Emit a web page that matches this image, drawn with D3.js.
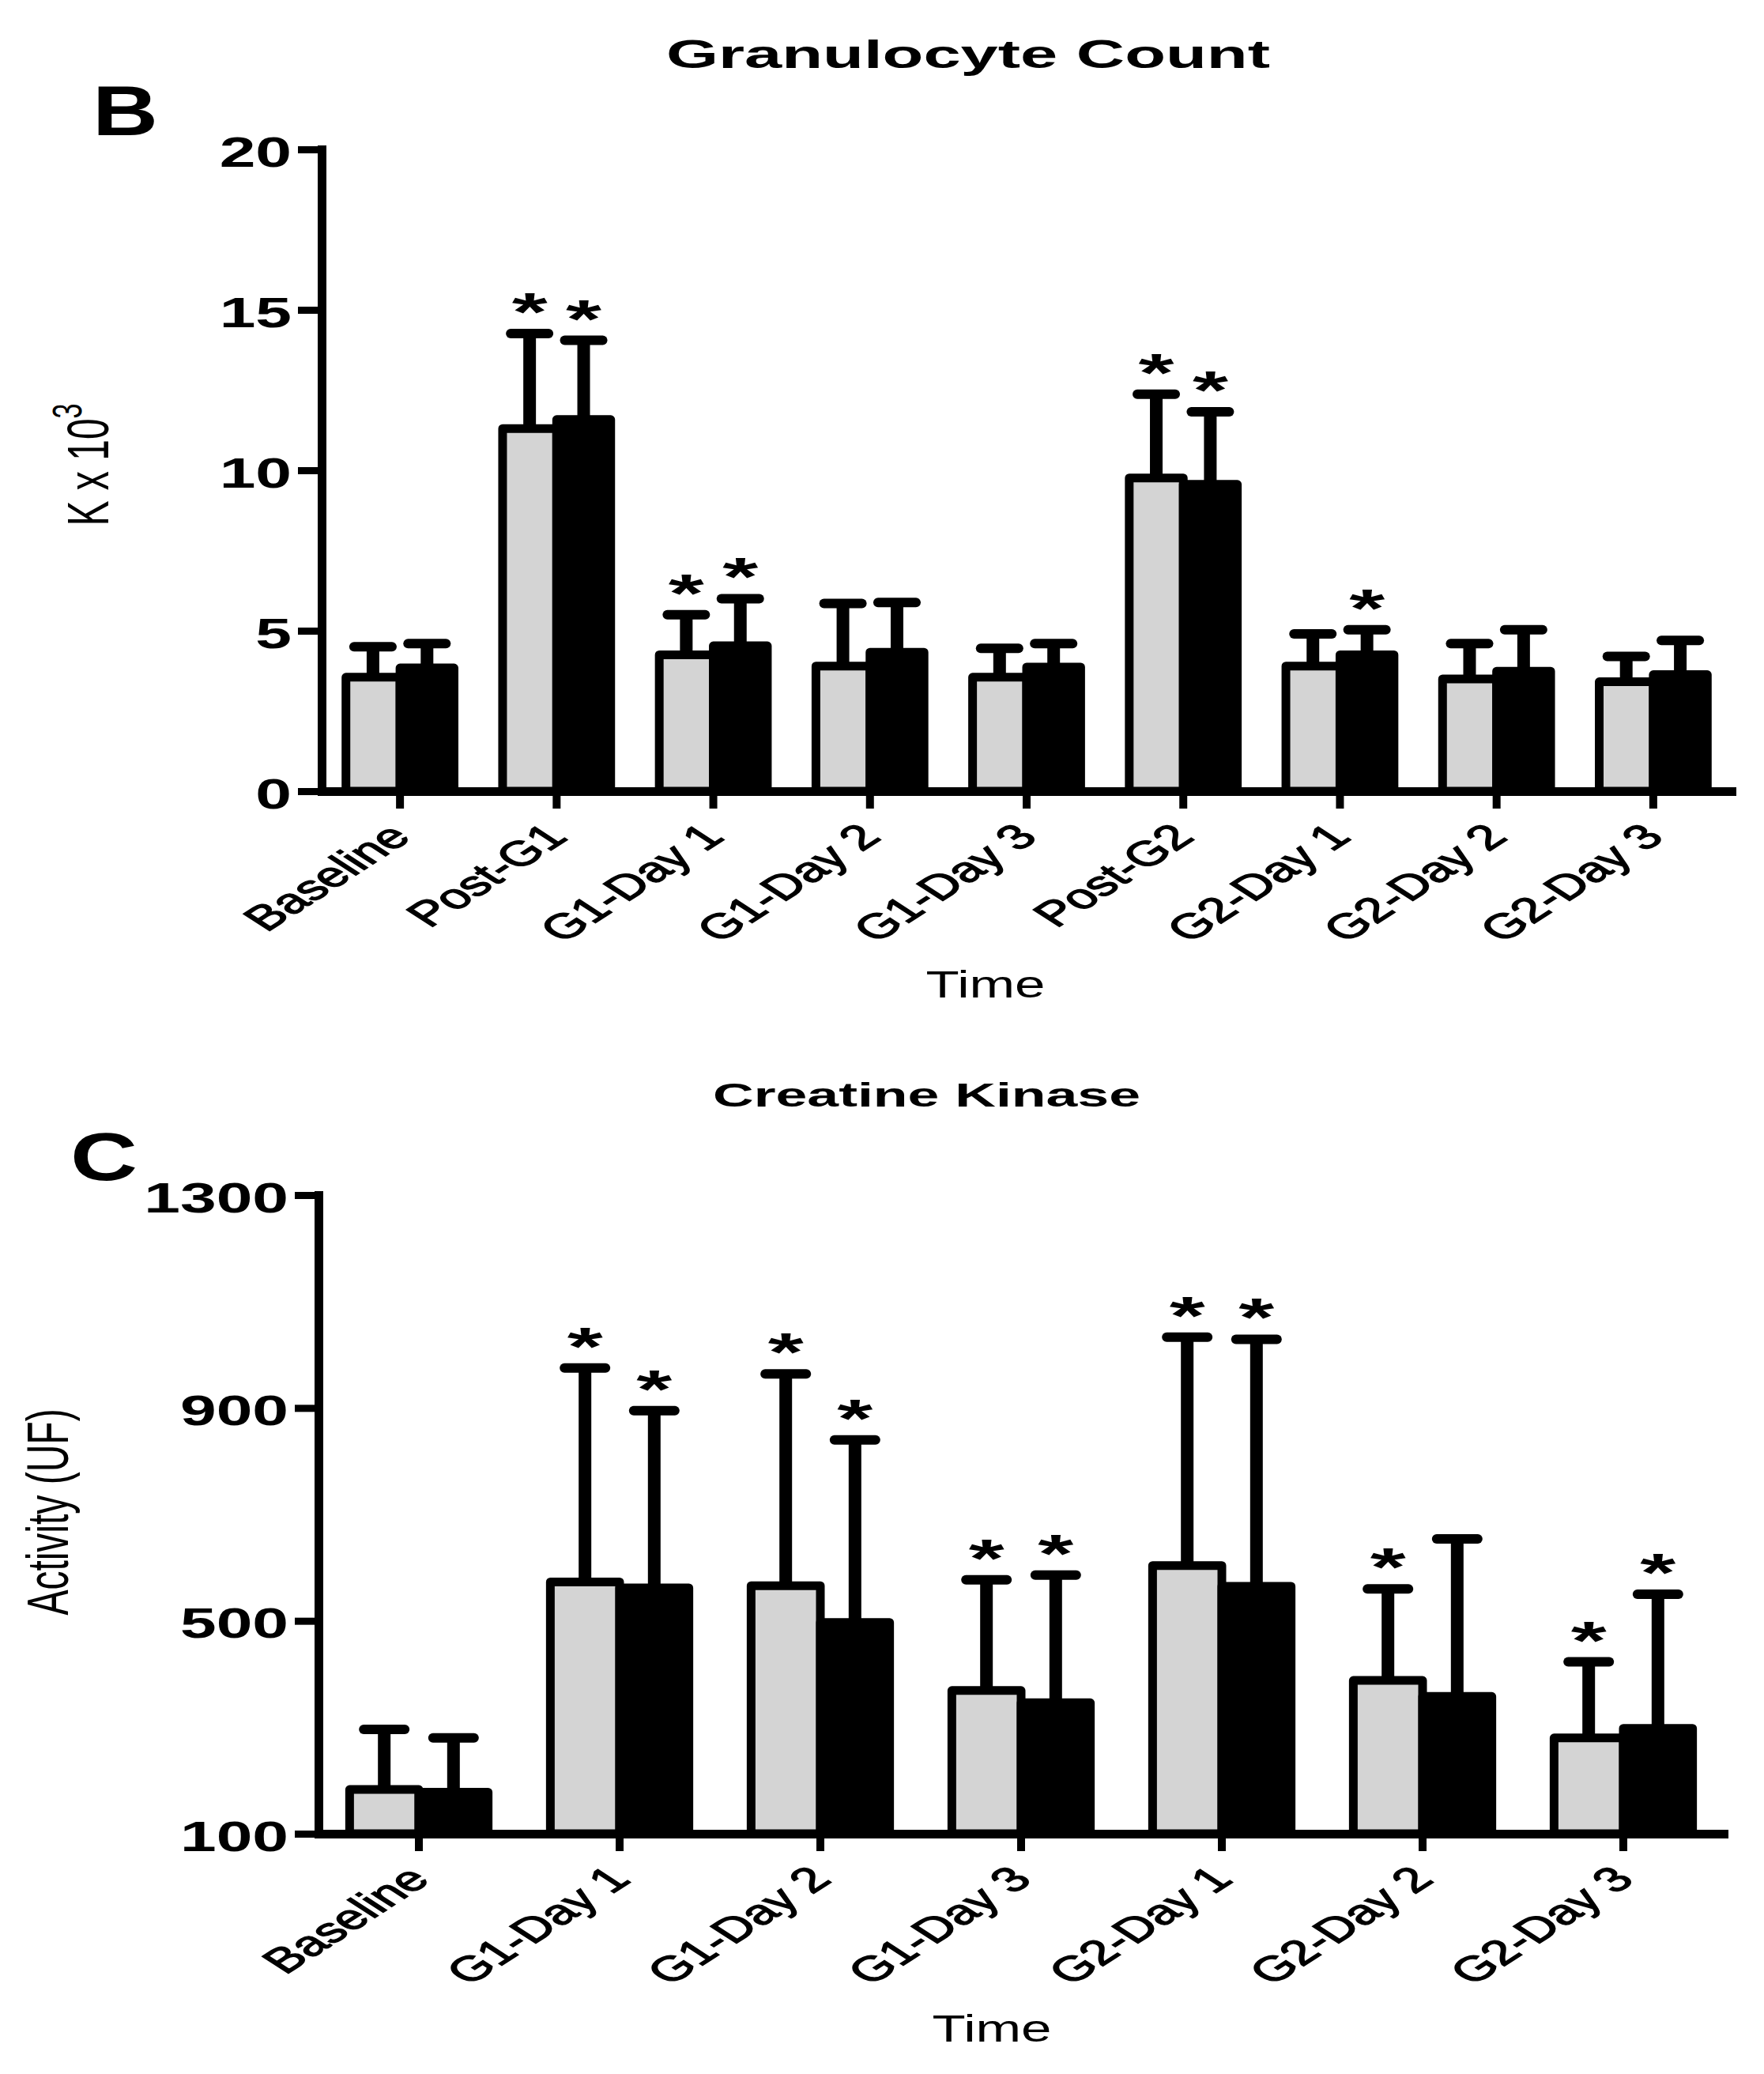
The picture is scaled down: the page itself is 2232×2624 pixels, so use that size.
<!DOCTYPE html>
<html>
<head>
<meta charset="utf-8">
<script src="https://cdn.jsdelivr.net/npm/d3@7"></script>
<style>
body { margin: 0; background: #fff; }
svg { display: block; }
text { font-family: "Liberation Sans", Arial, Helvetica, sans-serif; fill: #000; }
</style>
</head>
<body>
<div id="chart"></div>
<script>
// ---- data: Granulocyte Count (K x 10^3) ----
var granCategories = ["Baseline", "Post-G1", "G1-Day 1", "G1-Day 2", "G1-Day 3", "Post-G2", "G2-Day 1", "G2-Day 2", "G2-Day 3"];
var granGray      = [3.55, 11.3, 4.25, 3.9, 3.55, 9.76, 3.9, 3.5, 3.41];
var granGraySD    = [0.95, 2.96, 1.25, 1.95, 0.9, 2.61, 1.0, 1.1, 0.79];
var granBlack     = [3.84, 11.58, 4.53, 4.33, 3.87, 9.56, 4.25, 3.74, 3.63];
var granBlackSD   = [0.76, 2.47, 1.47, 1.55, 0.73, 2.26, 0.78, 1.29, 1.07];
var granGrayStar  = [0, 1, 1, 0, 0, 1, 0, 0, 0];
var granBlackStar = [0, 1, 1, 0, 0, 1, 1, 0, 0];
var granTicks     = [0, 5, 10, 15, 20];

// ---- data: Creatine Kinase, Activity (UF) ----
var ckCategories = ["Baseline", "G1-Day 1", "G1-Day 2", "G1-Day 3", "G2-Day 1", "G2-Day 2", "G2-Day 3"];
var ckGray      = [183, 573, 566, 369, 604, 388, 280];
var ckGraySD    = [113, 402, 398, 208, 429, 172, 143];
var ckBlack     = [178, 562, 497, 346, 565, 358, 298];
var ckBlackSD   = [102, 333, 343, 240, 464, 296, 252];
var ckGrayStar  = [0, 1, 1, 1, 1, 1, 1];
var ckBlackStar = [0, 1, 1, 1, 1, 0, 1];
var ckTicks     = [100, 500, 900, 1300];

var W = 2232, H = 2624;
var SX = 1.55;          // the figure is stretched horizontally
var LW = 11;            // line weight of bars / axes

var svg = d3.select("#chart").append("svg")
    .attr("width", W).attr("height", H);
svg.append("rect").attr("width", W).attr("height", H).attr("fill", "#fff");

function drawPanel(p) {
    var g = svg.append("g");
    var x0 = d3.scaleBand().domain(p.categories).range([p.left, p.right]);
    var y = d3.scaleLinear().domain(p.domain).range([p.bottom, p.top]);
    var pairW = x0.bandwidth() * 0.69;
    var barW = pairW / 2;

    var series = [
        {values: p.gray, sd: p.graySD, stars: p.grayStar, fill: "#d4d4d4"},
        {values: p.black, sd: p.blackSD, stars: p.blackStar, fill: "#000"}
    ];

    series.forEach(function(s, si) {
        var bx = function(c) { return x0(c) + (x0.bandwidth() - pairW) / 2 + si * barW; };
        var sg = g.append("g");
        // error bars (upper only)
        sg.selectAll("line.err").data(p.categories).enter().append("line")
            .attr("x1", function(c) { return bx(c) + barW / 2; })
            .attr("x2", function(c) { return bx(c) + barW / 2; })
            .attr("y1", function(c, i) { return y(s.values[i]); })
            .attr("y2", function(c, i) { return y(s.values[i] + s.sd[i]); })
            .attr("stroke", "#000").attr("stroke-width", 16);
        sg.selectAll("line.cap").data(p.categories).enter().append("line")
            .attr("x1", function(c) { return bx(c) + barW / 2 - p.capW / 2; })
            .attr("x2", function(c) { return bx(c) + barW / 2 + p.capW / 2; })
            .attr("y1", function(c, i) { return y(s.values[i] + s.sd[i]); })
            .attr("y2", function(c, i) { return y(s.values[i] + s.sd[i]); })
            .attr("stroke", "#000").attr("stroke-width", 12)
            .attr("stroke-linecap", "round");
        // bars
        sg.selectAll("rect").data(p.categories).enter().append("rect")
            .attr("x", bx)
            .attr("y", function(c, i) { return y(s.values[i]); })
            .attr("width", barW)
            .attr("height", function(c, i) { return p.bottom - y(s.values[i]); })
            .attr("fill", s.fill)
            .attr("stroke", "#000").attr("stroke-width", LW)
            .attr("stroke-linejoin", "round");
        // significance stars
        sg.selectAll("text").data(p.categories.filter(function(c, i) { return s.stars[i]; }))
            .enter().append("text")
            .attr("transform", function(c) {
                var i = p.categories.indexOf(c);
                return "translate(" + (bx(c) + barW / 2) + "," + (y(s.values[i] + s.sd[i]) - 4) + ") scale(1.7,1)";
            })
            .attr("text-anchor", "middle")
            .attr("font-weight", "bold")
            .attr("font-size", 68)
            .text("*");
    });

    // y axis
    var ya = g.append("g").attr("transform", "translate(" + p.left + ",0)")
        .call(d3.axisLeft(y).tickValues(p.ticks).tickSize(30).tickSizeOuter(0).tickPadding(8).tickFormat(d3.format("d")));
    ya.attr("font-size", null).attr("font-family", null);
    ya.select(".domain").attr("stroke-width", LW).attr("stroke-linecap", "square");
    ya.selectAll(".tick line").attr("stroke-width", 9);
    ya.selectAll(".tick text")
        .attr("font-size", 53).attr("font-weight", "bold")
        .attr("x", -38 / SX).attr("dy", "0.4em")
        .attr("transform", "scale(" + SX + ",1)");

    // x axis
    var xa = g.append("g").attr("transform", "translate(0," + p.bottom + ")")
        .call(d3.axisBottom(x0).tickSize(22).tickSizeOuter(0));
    xa.attr("font-size", null).attr("font-family", null);
    xa.select(".domain").attr("stroke-width", LW).attr("stroke-linecap", "square");
    xa.selectAll(".tick line").attr("stroke-width", 10);
    xa.selectAll(".tick text")
        .attr("font-size", 44)
        .attr("stroke", "#000").attr("stroke-width", 1.3)
        .attr("x", 0).attr("y", 0).attr("dy", 0)
        .attr("text-anchor", "end")
        .attr("transform", "translate(16,60) scale(" + SX + ",1) rotate(-45)");

    // titles and labels
    g.append("text").attr("x", p.titleX).attr("y", p.titleY)
        .attr("font-size", p.titleSize).attr("font-weight", "bold")
        .attr("textLength", p.titleLen).attr("lengthAdjust", "spacingAndGlyphs")
        .text(p.title);
    g.append("text").attr("x", p.letterX).attr("y", p.letterY)
        .attr("font-size", p.letterSize).attr("font-weight", "bold")
        .attr("textLength", p.letterLen).attr("lengthAdjust", "spacingAndGlyphs")
        .text(p.letter);
    g.append("text").attr("x", p.timeX).attr("y", p.timeY)
        .attr("font-size", 48).attr("text-anchor", "middle")
        .attr("textLength", 151).attr("lengthAdjust", "spacingAndGlyphs")
        .text("Time");
    var yl = g.append("text")
        .attr("transform", "translate(" + p.ylabX + "," + p.ylabY + ") scale(" + SX + ",1) rotate(-90)")
        .attr("text-anchor", "middle")
        .attr("font-size", p.ylabSize);
    p.ylab(yl);
}

drawPanel({
    categories: granCategories, gray: granGray, graySD: granGraySD, black: granBlack, blackSD: granBlackSD,
    grayStar: granGrayStar, blackStar: granBlackStar, ticks: granTicks, domain: [0, 20],
    left: 407, right: 2191, top: 189, bottom: 1001, capW: 48,
    title: "Granulocyte Count", titleX: 843, titleY: 86, titleSize: 50, titleLen: 764,
    letter: "B", letterX: 117, letterY: 171, letterSize: 89, letterLen: 83,
    timeX: 1247, timeY: 1262,
    ylabX: 137, ylabY: 588, ylabSize: 48,
    ylab: function(t) {
        t.append("tspan").text("K x 10");
        t.append("tspan").attr("font-size", 34).attr("dy", -22).text("3");
    }
});

drawPanel({
    categories: ckCategories, gray: ckGray, graySD: ckGraySD, black: ckBlack, blackSD: ckBlackSD,
    grayStar: ckGrayStar, blackStar: ckBlackStar, ticks: ckTicks, domain: [100, 1300],
    left: 403, right: 2181, top: 1512, bottom: 2320, capW: 52,
    title: "Creatine Kinase", titleX: 902, titleY: 1400, titleSize: 43, titleLen: 541,
    letter: "C", letterX: 89, letterY: 1493, letterSize: 85, letterLen: 85,
    timeX: 1255, timeY: 2583,
    ylabX: 86, ylabY: 1913, ylabSize: 48,
    ylab: function(t) { t.text("Activity (UF)"); }
});
</script>
</body>
</html>
